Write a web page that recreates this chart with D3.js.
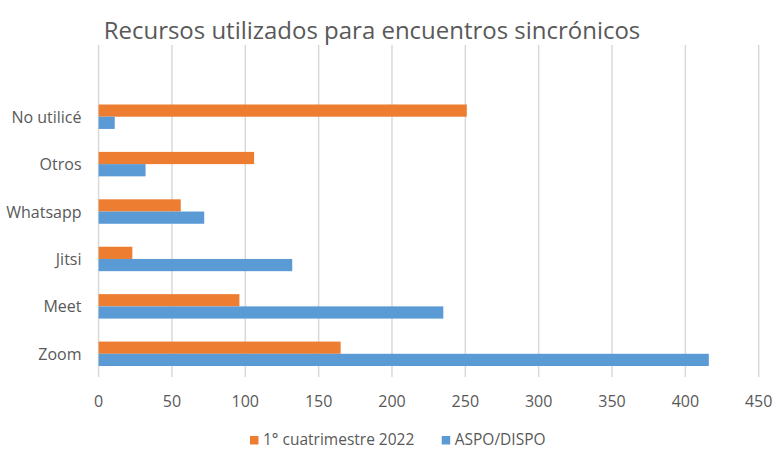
<!DOCTYPE html>
<html>
<head>
<meta charset="utf-8">
<script src="https://cdn.jsdelivr.net/npm/d3@7"></script>
<style>
  body { margin: 0; background: #fff; }
  text { font-family: "Open Sans", sans-serif; fill: #595959; }
</style>
</head>
<body>
<script>
// data
const categories = ["Zoom", "Meet", "Jitsi", "Whatsapp", "Otros", "No utilicé"];
const cuatrimestre2022 = [165, 96, 23, 56, 106, 251];
const aspoDispo = [416, 235, 132, 72, 32, 11];
const seriesNames = ["1° cuatrimestre 2022", "ASPO/DISPO"];
const colors = ["#ED7D31", "#5B9BD5"];
const xTicks = [0, 50, 100, 150, 200, 250, 300, 350, 400, 450];

const width = 776, height = 451;

const svg = d3.select("body")
    .append("svg")
    .attr("width", width)
    .attr("height", height);

const x = d3.scaleLinear().domain([0, 450]).range([98.6, 758.7]);
// categories go bottom to top
const y = d3.scaleBand().domain(categories).range([377.5, 93]);
const inner = d3.scaleBand().domain([0, 1]).range([0, y.bandwidth()]).paddingInner(0).paddingOuter(0.94);

// grid lines
svg.append("g")
    .selectAll("line")
    .data(xTicks)
    .join("line")
        .attr("x1", d => x(d))
        .attr("x2", d => x(d))
        .attr("y1", 45)
        .attr("y2", 377)
        .attr("stroke", "#d9d9d9")
        .attr("stroke-width", 1.5);

// bars - orange on top, blue below
const rows = categories.map((c, i) => ({cat: c, vals: [cuatrimestre2022[i], aspoDispo[i]]}));
const group = svg.append("g")
    .selectAll("g")
    .data(rows)
    .join("g")
        .attr("transform", d => "translate(0," + y(d.cat) + ")");

group.selectAll("rect")
    .data(d => d.vals)
    .join("rect")
        .attr("x", x(0))
        .attr("y", (d, i) => inner(i))
        .attr("width", d => x(d) - x(0))
        .attr("height", inner.bandwidth())
        .attr("fill", (d, i) => colors[i]);

// x tick labels
svg.append("g")
    .selectAll("text")
    .data(xTicks)
    .join("text")
        .attr("x", d => x(d))
        .attr("y", 406.5)
        .attr("text-anchor", "middle")
        .style("font-size", "16px")
        .text(d => d);

// category labels
svg.append("g")
    .selectAll("text")
    .data(categories)
    .join("text")
        .attr("x", 81.5)
        .attr("y", d => y(d) + y.bandwidth() / 2 + 6)
        .attr("text-anchor", "end")
        .style("font-size", "16px")
        .text(d => d);

// title, fitted to the width it has in the picture
const title = svg.append("text")
    .attr("x", 372)
    .attr("y", 39)
    .attr("text-anchor", "middle")
    .style("font-size", "24px")
    .text("Recursos utilizados para encuentros sincrónicos");
const tw = title.node().getComputedTextLength();
title.style("font-size", (24 * 537 / tw) + "px");

// legend
const legendX = [250, 441.7];
const legend = svg.append("g")
    .selectAll("g")
    .data(seriesNames)
    .join("g")
        .attr("transform", (d, i) => "translate(" + legendX[i] + ",436)");

legend.append("rect")
    .attr("width", 8.5)
    .attr("height", 8.5)
    .attr("fill", (d, i) => colors[i]);

legend.append("text")
    .attr("x", 13)
    .attr("y", 8.5)
    .style("font-size", "15.5px")
    .text(d => d);
</script>
</body>
</html>
